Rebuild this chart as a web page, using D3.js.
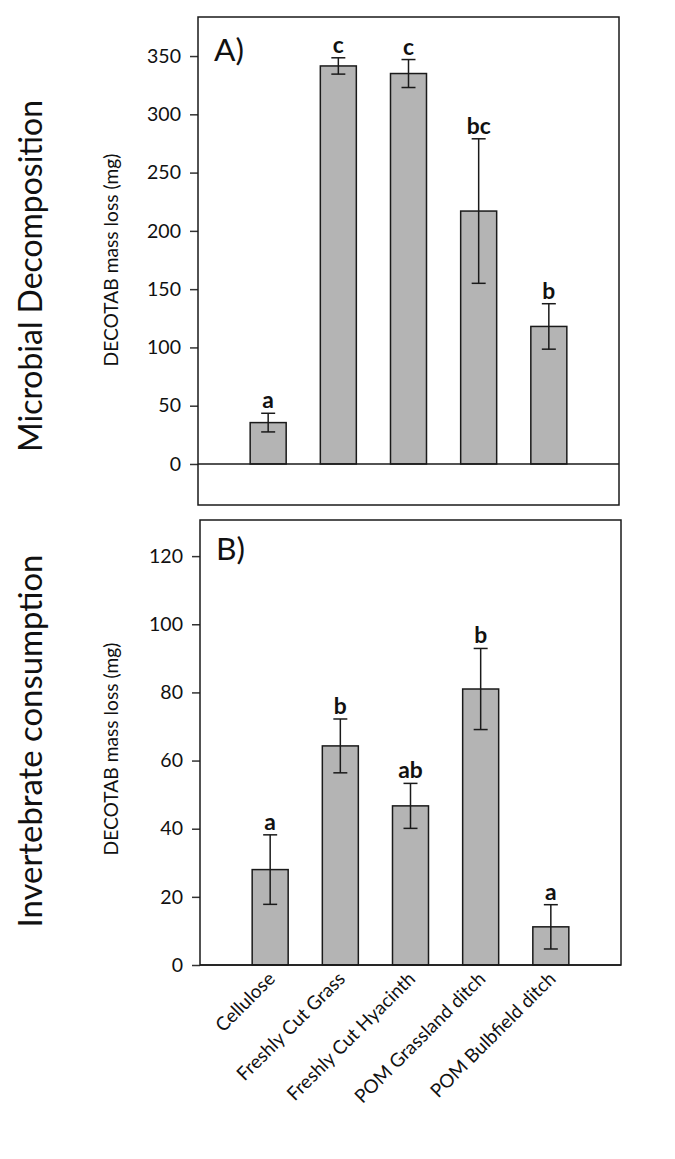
<!DOCTYPE html>
<html><head><meta charset="utf-8">
<script src="https://cdn.jsdelivr.net/npm/d3@7"></script>
<style>body{margin:0;background:#fff}svg{display:block}text{font-family:Lato,"Open Sans",sans-serif;font-weight:400}</style>
</head><body>
<script>
const categories = ["Cellulose","Freshly Cut Grass","Freshly Cut Hyacinth","POM Grassland ditch","POM Bulbfield ditch"];
const microbialMean = [35.5, 341.5, 335, 217, 118];
const microbialErr  = [8, 7, 12, 62, 19.5];
const microbialLetters = ["a","c","c","bc","b"];
const microbialTicks = [0,50,100,150,200,250,300,350];
const invertMean = [28, 64.3, 46.7, 81, 11.2];
const invertErr  = [10.2, 7.9, 6.6, 11.9, 6.5];
const invertLetters = ["a","b","ab","b","a"];
const invertTicks = [0,20,40,60,80,100,120];

const W = 675, H = 1159;
const svg = d3.select("body").append("svg").attr("width", W).attr("height", H);

function fitSize(node, base, target){
  const len = node.getComputedTextLength();
  return base * target / len;
}
function probe(txt, base, target, weight){
  const t = svg.append("text").attr("font-size",base).style("font-weight",weight||"400").text(txt);
  const s = fitSize(t.node(), base, target); t.remove(); return s;
}
const tickSize = probe("350", 20, 34);
const ylabSize = probe("DECOTAB mass loss (mg)", 16, 213);
const letterSize = probe("bc", 20, 24, "700");
const xlabSize = probe("Freshly Cut Grass", 17, 144);
const tagSize = probe("A)", 30, 30);

function panel(opt){
  const {left,right,top,bottom,domain,mean,err,letters,ticks,tag,tagY,ylabel,title,titleY,titleLen,ylabelY} = opt;
  const x = d3.scalePoint().domain(categories).range([left,right]).padding(1);
  const y = d3.scaleLinear().domain(domain).range([bottom,top]);
  const g = svg.append("g");
  const bw = 36;
  const ax = g.append("g").attr("transform",`translate(${left},0)`)
    .call(d3.axisLeft(y).tickValues(ticks).tickSize(8).tickPadding(9).tickFormat(d3.format("d")));
  ax.select(".domain").remove();
  ax.selectAll(".tick line").attr("stroke","#333").attr("stroke-width",1.5);
  ax.selectAll(".tick text").attr("font-size",tickSize).attr("fill","#111");
  g.selectAll("rect.bar").data(mean).join("rect").attr("class","bar")
    .attr("x",(d,i)=>x(categories[i])-bw/2).attr("width",bw)
    .attr("y",d=>y(d)).attr("height",d=>y(0)-y(d))
    .attr("fill","#b4b4b4").attr("stroke","#1a1a1a").attr("stroke-width",1.5);
  const eb = g.selectAll("g.eb").data(mean).join("g").attr("class","eb");
  eb.append("line").attr("x1",(d,i)=>x(categories[i])).attr("x2",(d,i)=>x(categories[i]))
    .attr("y1",(d,i)=>y(d+err[i])).attr("y2",(d,i)=>y(d-err[i]));
  eb.append("line").attr("x1",(d,i)=>x(categories[i])-7).attr("x2",(d,i)=>x(categories[i])+7)
    .attr("y1",(d,i)=>y(d+err[i])).attr("y2",(d,i)=>y(d+err[i]));
  eb.append("line").attr("x1",(d,i)=>x(categories[i])-7).attr("x2",(d,i)=>x(categories[i])+7)
    .attr("y1",(d,i)=>y(d-err[i])).attr("y2",(d,i)=>y(d-err[i]));
  eb.selectAll("line").attr("stroke","#1a1a1a").attr("stroke-width",1.5);
  g.selectAll("text.let").data(letters).join("text").attr("class","let")
    .attr("x",(d,i)=>x(categories[i])).attr("y",(d,i)=>y(mean[i]+err[i])-5)
    .attr("text-anchor","middle").attr("font-size",letterSize).style("font-weight","700").attr("fill","#111").text(d=>d);
  g.append("line").attr("x1",left).attr("x2",right).attr("y1",y(0)).attr("y2",y(0))
    .attr("stroke","#1a1a1a").attr("stroke-width",1.5);
  g.append("rect").attr("x",left).attr("y",top).attr("width",right-left).attr("height",bottom-top)
    .attr("fill","none").attr("stroke","#1a1a1a").attr("stroke-width",1.5);
  g.append("text").attr("x",left+16).attr("y",tagY).attr("font-size",tagSize).attr("fill","#111").text(tag);
  g.append("text").attr("transform",`translate(118,${ylabelY}) rotate(-90)`).attr("text-anchor","middle")
    .attr("font-size",ylabSize).attr("fill","#111").text(ylabel);
  const tt = g.append("text").attr("transform",`translate(42,${titleY}) rotate(-90)`).attr("text-anchor","middle")
    .attr("font-size",30).attr("fill","#111").text(title);
  tt.attr("font-size", fitSize(tt.node(),30,titleLen));
  return x;
}

panel({left:198,right:619,top:17,bottom:505,domain:[-35.2,383.5],
  mean:microbialMean,err:microbialErr,letters:microbialLetters,ticks:microbialTicks,
  tag:"A)",tagY:61,ylabel:"DECOTAB mass loss (mg)",title:"Microbial Decomposition",titleY:276,titleLen:352,ylabelY:260});
const xb = panel({left:200,right:621,top:520,bottom:965,domain:[0,130.6],
  mean:invertMean,err:invertErr,letters:invertLetters,ticks:invertTicks,
  tag:"B)",tagY:560,ylabel:"DECOTAB mass loss (mg)",title:"Invertebrate consumption",titleY:741,titleLen:373,ylabelY:749});

svg.append("g").selectAll("text").data(categories).join("text")
  .attr("transform",d=>`translate(${xb(d)+6},${980}) rotate(-45)`)
  .attr("text-anchor","end").attr("font-size",xlabSize).attr("fill","#111").text(d=>d);
</script>
</body></html>
